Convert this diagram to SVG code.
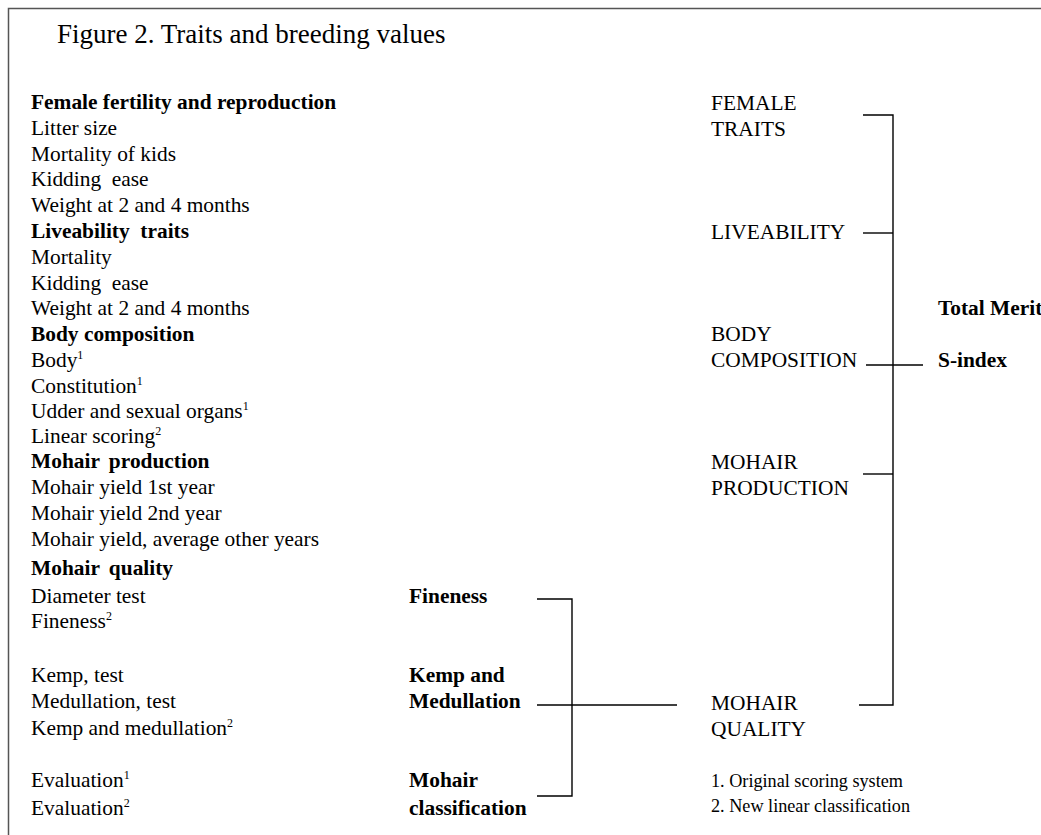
<svg xmlns="http://www.w3.org/2000/svg" width="1041" height="835" viewBox="0 0 1041 835">
<style>
.t{font-family:"Liberation Serif","Times New Roman",serif;font-size:21.4px;fill:#000;white-space:pre}
.b{font-weight:bold}
.title{font-size:27px}
.fn{font-size:18.2px}
.sup{font-size:12px}
.ln{stroke:#000;stroke-width:1.4;fill:none}
.frame{stroke:#555;stroke-width:1.5;fill:none}
</style>
<rect width="1041" height="835" fill="#fff"/>
<path class="frame" d="M8.5,835 V8.5 H1041"/>
<text class="t title" x="57" y="43">Figure 2. Traits and breeding values</text>

<g id="trait-list">
<text class="t b" x="31" y="109">Female fertility and reproduction</text>
<text class="t" x="31" y="135">Litter size</text>
<text class="t" x="31" y="161">Mortality of kids</text>
<text class="t" x="31" y="186">Kidding  ease</text>
<text class="t" x="31" y="212">Weight at 2 and 4 months</text>
<text class="t b" x="31" y="238">Liveability  traits</text>
<text class="t" x="31" y="264">Mortality</text>
<text class="t" x="31" y="290">Kidding  ease</text>
<text class="t" x="31" y="315">Weight at 2 and 4 months</text>
<text class="t b" x="31" y="341">Body composition</text>
<text class="t" x="31" y="367">Body<tspan class="sup" dy="-8">1</tspan></text>
<text class="t" x="31" y="393">Constitution<tspan class="sup" dy="-8">1</tspan></text>
<text class="t" x="31" y="418">Udder and sexual organs<tspan class="sup" dy="-8">1</tspan></text>
<text class="t" x="31" y="443">Linear scoring<tspan class="sup" dy="-8">2</tspan></text>
<text class="t b" x="31" y="468" word-spacing="4">Mohair production</text>
<text class="t" x="31" y="494">Mohair yield 1st year</text>
<text class="t" x="31" y="520">Mohair yield 2nd year</text>
<text class="t" x="31" y="546">Mohair yield, average other years</text>
<text class="t b" x="31" y="575" word-spacing="4">Mohair quality</text>
<text class="t" x="31" y="603">Diameter test</text>
<text class="t" x="31" y="628">Fineness<tspan class="sup" dy="-8">2</tspan></text>
<text class="t" x="31" y="682">Kemp, test</text>
<text class="t" x="31" y="708">Medullation, test</text>
<text class="t" x="31" y="735">Kemp and medullation<tspan class="sup" dy="-8">2</tspan></text>
<text class="t" x="31" y="787">Evaluation<tspan class="sup" dy="-8">1</tspan></text>
<text class="t" x="31" y="815">Evaluation<tspan class="sup" dy="-8">2</tspan></text>
</g>

<g id="node-fineness"><text class="t b" x="409" y="603">Fineness</text></g>
<g id="node-kemp-medullation"><text class="t b" x="409" y="682">Kemp and</text><text class="t b" x="409" y="708">Medullation</text></g>
<g id="node-mohair-classification"><text class="t b" x="409" y="787">Mohair</text><text class="t b" x="409" y="815">classification</text></g>

<g id="node-female-traits"><text class="t" x="711" y="110">FEMALE</text><text class="t" x="711" y="136">TRAITS</text></g>
<g id="node-liveability"><text class="t" x="711" y="239">LIVEABILITY</text></g>
<g id="node-body-composition"><text class="t" x="711" y="341">BODY</text><text class="t" x="711" y="367">COMPOSITION</text></g>
<g id="node-mohair-production"><text class="t" x="711" y="469">MOHAIR</text><text class="t" x="711" y="495">PRODUCTION</text></g>
<g id="node-mohair-quality"><text class="t" x="711" y="710">MOHAIR</text><text class="t" x="711" y="736">QUALITY</text></g>

<g id="node-total-merit"><text class="t b" x="938" y="315">Total Merit</text><text class="t b" x="938" y="367">S-index</text></g>

<g id="footnotes">
<text class="t fn" x="711" y="787">1. Original scoring system</text>
<text class="t fn" x="711" y="812">2. New linear classification</text>
</g>

<g id="connectors">
<path class="ln" d="M537,599 H572 V796 H537"/>
<path class="ln" d="M537,705 H677"/>
<path class="ln" d="M863,115 H893 V705 H859"/>
<path class="ln" d="M863,233 H893"/>
<path class="ln" d="M866,365 H923"/>
<path class="ln" d="M863,474 H893"/>
</g>
</svg>
